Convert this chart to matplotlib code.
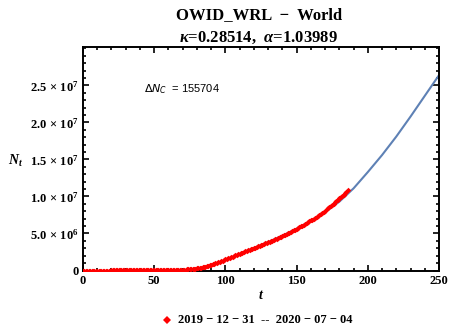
import numpy as np
import matplotlib.pyplot as plt
from matplotlib.ticker import MultipleLocator, FixedLocator

plt.rcParams['font.family'] = ['Liberation Serif', 'DejaVu Serif']
plt.rcParams['mathtext.fontset'] = 'custom'
plt.rcParams['mathtext.rm'] = 'Liberation Serif:bold'
plt.rcParams['mathtext.bf'] = 'Liberation Serif:bold'
plt.rcParams['mathtext.it'] = 'Liberation Serif:italic:bold'

# наблюдаемые данные (тыс. случаев), день 0 = 2019-12-31
cases_k = [
    0.03, 0.03, 0.03, 0.04, 0.04, 0.06, 0.06, 0.06, 0.06, 0.06,
    0.06, 0.06, 0.06, 0.06, 0.06, 0.06, 0.06, 0.06, 0.06, 0.2,
    0.28, 0.31, 0.58, 0.85, 1.3, 2.0, 2.8, 4.5, 6.0, 7.8,
    9.8, 11.9, 14.5, 17.3, 20.6, 24.5, 28.3, 31.5, 34.9, 37.6,
    40.6, 43.1, 45.2, 60.4, 64.4, 67.1, 69.3, 71.3, 73.3, 75.2,
    75.7, 76.8, 77.8, 78.6, 79.1, 79.6, 80.4, 81.4, 82.7, 84.1,
    86.0, 88.4, 90.3, 92.8, 95.1, 97.9, 101.8, 105.8, 109.8, 113.6,
    118.6, 125.9, 132.6, 145.6, 156.4, 169.6, 182.4, 198.1, 218.8, 245.1,
    275.1, 304.5, 337.5, 378.3, 418.0, 466.9, 529.5, 593.3, 660.7, 720.1,
    782.4, 815, 886, 962, 1040, 1117, 1186, 1256, 1327, 1407,
    1488, 1570, 1649, 1743, 1811, 1877, 1953, 2044, 2128, 2201,
    2281, 2348, 2422, 2493, 2573, 2655, 2737, 2807, 2881, 2948,
    3021, 3101, 3183, 3264, 3341, 3414, 3488, 3571, 3662, 3747,
    3828, 3902, 3974, 4052, 4132, 4216, 4307, 4398, 4474, 4558,
    4648, 4746, 4848, 4947, 5039, 5129, 5216, 5310, 5412, 5523,
    5639, 5741, 5843, 5953, 6062, 6188, 6310, 6432, 6546, 6648,
    6764, 6884, 7014, 7142, 7270, 7399, 7523, 7660, 7796, 7931,
    8071, 8249, 8415, 8570, 8716, 8878, 9044, 9218, 9396, 9577,
    9743, 9899, 10053, 10230, 10431, 10625, 10830,
]
days = np.arange(len(cases_k))
cases = np.array(cases_k) * 1e3

# модельная кривая (млн)
fit_t = [80, 90, 100, 110, 120, 130, 140, 150, 160, 170, 180, 190,
         200, 210, 220, 230, 240, 250]
fit_m = [0.05, 0.65, 1.45, 2.25, 3.05, 3.85, 4.70, 5.65, 6.70, 7.90, 9.30, 11.1,
         13.3, 15.6, 18.1, 20.8, 23.6, 26.4]
fit_n = np.array(fit_m) * 1e6

ytick_vals = [0, 5e6, 1e7, 1.5e7, 2e7, 2.5e7]
ytick_labels = ['0', r'$5.0\,\times\,10^{6}$', r'$1.0\,\times\,10^{7}$',
                r'$1.5\,\times\,10^{7}$', r'$2.0\,\times\,10^{7}$',
                r'$2.5\,\times\,10^{7}$']

fig = plt.figure(figsize=(4.5, 3.28), dpi=100)
ax = fig.add_axes([0.1844, 0.1753, 0.7912, 0.6814])

ax.plot(fit_t, fit_n, color='#5E81B5', linewidth=1.5, zorder=2)
ax.plot(days, cases, linestyle='none', marker='D', markersize=2.8,
        markeredgewidth=0, color='red', zorder=3)

ax.set_xlim(0, 250)
ax.set_ylim(0, 3.02e7)

ax.xaxis.set_major_locator(MultipleLocator(50))
ax.xaxis.set_minor_locator(MultipleLocator(10))
ax.yaxis.set_major_locator(FixedLocator(ytick_vals))
ax.yaxis.set_minor_locator(MultipleLocator(1e6))
ax.set_yticklabels(ytick_labels)
ax.tick_params(which='both', direction='in', top=True, right=True, width=1.2,
               labelsize=9)
ax.tick_params(which='major', length=4, pad=3)
ax.tick_params(which='minor', length=2)
for lab in ax.get_xticklabels() + ax.get_yticklabels():
    lab.set_fontweight('bold')
for sp in ax.spines.values():
    sp.set_linewidth(1.4)

ax.set_xlabel('t', fontsize=10, fontweight='bold', fontstyle='italic', labelpad=2)
fig.text(0.018, 0.51, r'$N_t$', fontsize=10, ha='left', va='center')

ax.text(0.17, 0.80, r'$\mathit{\Delta N_C}$  = 155704', transform=ax.transAxes,
        fontsize=8, family='Liberation Sans', math_fontfamily='dejavusans')

fig.text(0.575, 0.955, 'OWID_WRL  \u2212  World', ha='center', va='center',
         fontsize=12, fontweight='bold')
fig.text(0.575, 0.885, r'$\kappa$=0.28514,  $\alpha$=1.03989', ha='center',
         va='center', fontsize=12, fontweight='bold')

fig.lines.append(plt.Line2D([0.371], [0.025], transform=fig.transFigure,
                            marker='D', markersize=4.5, color='red',
                            markeredgewidth=0, linestyle='none'))
fig.text(0.395, 0.025, '2019 \u2212 12 \u2212 31  --  2020 \u2212 07 \u2212 04',
         ha='left', va='center', fontsize=9, fontweight='bold')

fig.savefig('out.png', dpi=100)
